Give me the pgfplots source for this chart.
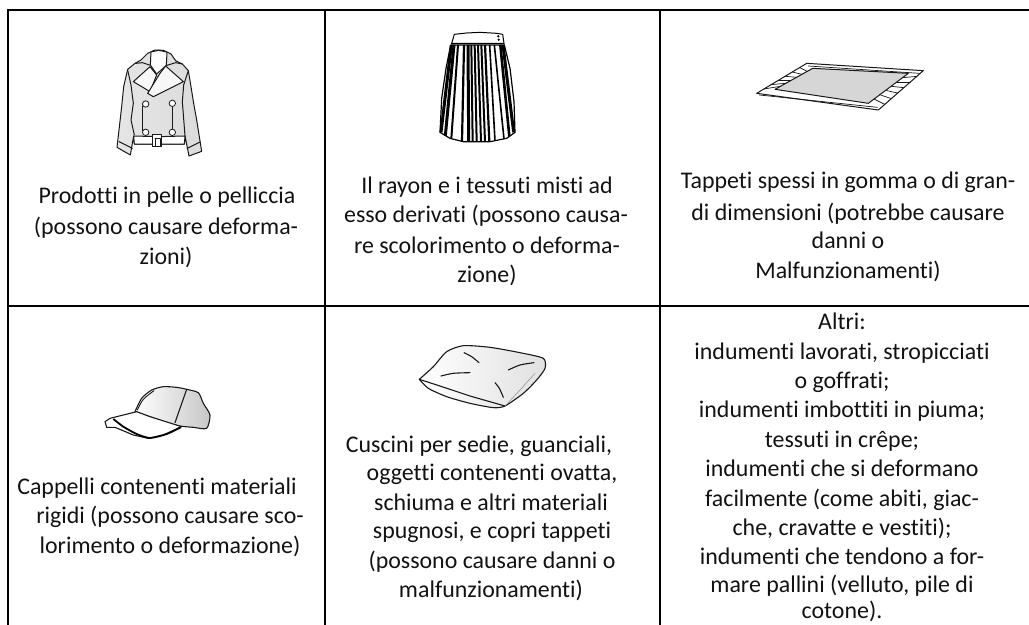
\documentclass[border=0pt]{standalone}
\usepackage{pgfplots}
\pgfplotsset{compat=1.18}
\usepackage{fontspec}
\setmainfont[Ligatures=NoCommon]{Carlito}
\definecolor{tx}{gray}{0.07}
\newcommand\tl[3]{\node[anchor=base,inner sep=0pt,text=tx,font=\fontsize{23.9bp}{28bp}\selectfont] at (axis cs:#1,#2) {#3};}
\pgfplotsset{
 jk/.style={x filter/.expression={105+x/3},y filter/.expression={40+y/3}},
 sk/.style={x filter/.expression={430+x/3},y filter/.expression={25+y/3}},
 rg/.style={x filter/.expression={600+x/3},y filter/.expression={y/3}},
 cp/.style={x filter/.expression={80+x/3},y filter/.expression={310+y/3}},
 ink/.style={draw=black!90,line width=1bp,line join=round,line cap=round,mark=none},
}
\newcommand\pl[5]{\addplot[sk,draw=black,line width=#5,mark=none,line cap=butt] coordinates {(#1,#2)(#3,#4)};}
\begin{document}
\begin{tikzpicture}
\useasboundingbox (0,0) rectangle (1029bp,625bp);
\begin{axis}[at={(0,0)},anchor=south west,scale only axis,width=1029bp,height=625bp,
 xmin=0,xmax=1029,ymin=0,ymax=625,y dir=reverse,hide axis,clip=false]
% table rules
\addplot[black,line width=2bp,mark=none] coordinates {(8,10)(1029,10)};
\addplot[black,line width=1.6bp,mark=none] coordinates {(8,306)(1029,306)};
\addplot[black,line width=2bp,mark=none] coordinates {(8,9)(8,625)};
\addplot[black,line width=1.6bp,mark=none] coordinates {(325,10)(325,625)};
\addplot[black,line width=1.6bp,mark=none] coordinates {(660,10)(660,625)};
% jacket
\addplot[jk,ink,left color=black!10,middle color=white,right color=black!14] coordinates {(128,40)(150,30)(175,31)(198,42)(212,62)(232,72)(250,92)(258,140)(266,190)(275,240)(283,290)(290,334)(252,348)(244,308)(240,288)(238,312)(88,312)(86,288)(76,345)(36,322)(42,270)(50,200)(56,140)(68,88)(90,70)(108,60)(128,40)};
\addplot[jk,ink,fill=white] coordinates {(138,36)(136,75)(155,102)(184,76)(186,36)(160,31)(138,36)};
\addplot[jk,ink,fill=black!3] coordinates {(135,80)(85,125)(135,155)(155,105)(135,80)};
\addplot[jk,ink,fill=black!3] coordinates {(165,100)(182,78)(235,125)(145,170)(128,160)(165,100)};
\addplot[jk,ink] coordinates {(92,70)(112,68)(136,76)};
\addplot[jk,ink] coordinates {(186,76)(212,68)(232,72)};
\addplot[jk,ink] coordinates {(68,90)(78,135)(85,190)(78,240)(88,285)};
\addplot[jk,ink] coordinates {(250,92)(236,135)(232,185)(240,288)};
\addplot[jk,ink] coordinates {(42,305)(82,325)};
\addplot[jk,ink] coordinates {(247,325)(285,306)};
\addplot[jk,ink] coordinates {(113,198)(113,272)};
\addplot[jk,ink] coordinates {(202,200)(202,270)};
\addplot[jk,ink,fill=white] coordinates {(86,288)(160,290)(240,288)(238,312)(88,312)(86,288)};
\addplot[jk,ink,fill=white] coordinates {(143,283)(170,283)(170,318)(143,318)(143,283)};
\addplot[jk,ink] coordinates {(150,295)(165,295)(165,318)};
\addplot[jk,ink] coordinates {(150,295)(150,318)};
\addplot[jk,only marks,mark=*,mark size=3.2bp,mark options={draw=black!90,fill=white,line width=0.8bp}] coordinates {(122,192)(202,190)(122,277)(202,277)};
% skirt
\addplot[sk,draw=black,line width=1.2bp,fill=white,mark=none] coordinates {(62,60)(223,60)(240,130)(252,230)(255,322)(230,340)(180,350)(100,350)(60,340)(30,322)(35,220)(48,130)(62,60)};
\pl{64}{60}{33}{322}{3bp}\pl{72}{60}{46}{332}{3bp}\pl{84}{60}{64}{340}{2bp}
\pl{102}{60}{96}{348}{2.2bp}\pl{114}{60}{116}{350}{3bp}\pl{124}{60}{128}{350}{2bp}
\pl{134}{60}{140}{350}{2bp}\pl{144}{60}{153}{350}{2bp}\pl{154}{60}{165}{350}{2bp}
\pl{165}{60}{178}{350}{2.2bp}\pl{179}{60}{195}{348}{1.6bp}\pl{193}{60}{222}{342}{1.6bp}
\pl{211}{60}{238}{334}{2.6bp}\pl{219}{60}{251}{322}{3bp}
\addplot[sk,draw=black,line width=1bp,fill=white,mark=none] coordinates {(73,28)(110,24)(150,22)(200,25)(218,28)(222,55)(65,55)(73,28)};
\addplot[sk,only marks,mark=*,mark size=0.9bp,black] coordinates {(205,34)(206,44)};
% rug
\addplot[rg,ink,fill=white] coordinates {(470,280)(620,190)(970,212)(835,330)(470,280)};
\addplot[rg,ink,left color=black!16,middle color=white,right color=black!16] coordinates {(525,268)(638,205)(925,220)(805,310)(525,268)};
\addplot[rg,ink,line width=0.7bp] coordinates {(478,285)(832,322)};
\addplot[rg,ink,line width=0.7bp] coordinates {(625,198)(958,220)};
\addplot[rg,ink,line width=0.7bp] coordinates {(491,267)(541,259)};
\addplot[rg,ink,line width=0.7bp] coordinates {(513,254)(557,250)};
\addplot[rg,ink,line width=0.7bp] coordinates {(534,241)(573,241)};
\addplot[rg,ink,line width=0.7bp] coordinates {(556,229)(590,232)};
\addplot[rg,ink,line width=0.7bp] coordinates {(577,216)(606,223)};
\addplot[rg,ink,line width=0.7bp] coordinates {(599,203)(622,214)};
\addplot[rg,ink,line width=0.7bp] coordinates {(951,229)(908,233)};
\addplot[rg,ink,line width=0.7bp] coordinates {(931,246)(891,246)};
\addplot[rg,ink,line width=0.7bp] coordinates {(912,263)(874,259)};
\addplot[rg,ink,line width=0.7bp] coordinates {(893,279)(856,271)};
\addplot[rg,ink,line width=0.7bp] coordinates {(874,296)(839,284)};
\addplot[rg,ink,line width=0.7bp] coordinates {(854,313)(822,297)};
% cap
\addplot[cp,ink,line width=1.1bp,smooth,tension=0.4,left color=white,right color=black!22] coordinates {(165,305)(185,265)(215,240)(250,230)(290,232)(320,238)(355,248)(370,280)(390,315)(380,355)(340,352)(285,345)(165,305)};
\addplot[cp,ink,line width=1.1bp,fill=white] coordinates {(75,335)(90,325)(170,305)(210,320)(305,350)(250,375)(205,385)(160,375)(105,352)(80,352)(75,335)};
\addplot[cp,ink,line width=1.1bp] coordinates {(320,238)(285,338)};
\addplot[cp,ink,line width=0.9bp,smooth] coordinates {(172,300)(190,268)(222,242)};
\addplot[cp,black,line width=1.8bp,mark=none,smooth,tension=0.4] coordinates {(100,327)(130,350)(170,372)(210,384)(260,372)(302,352)};
% pillow
\addplot[cp,ink,line width=1.1bp,smooth,tension=0.4,left color=white,right color=black!12] coordinates {(1018,208)(1060,170)(1100,125)(1150,107)(1230,112)(1320,128)(1390,145)(1395,175)(1370,210)(1330,250)(1275,288)(1240,293)(1170,280)(1100,260)(1045,235)(1018,208)};
\addplot[cp,ink,line width=1.1bp] coordinates {(1018,208)(1080,228)(1170,258)(1275,288)};
\addplot[cp,ink,line width=0.5bp,draw=black!45] coordinates {(1275,288)(1320,240)(1365,190)};
\addplot[cp,ink,line width=1.1bp,smooth] coordinates {(1152,128)(1175,140)(1197,158)};
\addplot[cp,ink,line width=1.1bp,smooth] coordinates {(1083,198)(1120,190)(1170,188)};
\addplot[cp,ink,line width=1.1bp,smooth] coordinates {(1285,180)(1320,165)(1362,158)};
\addplot[cp,ink,line width=1.1bp,smooth] coordinates {(1245,218)(1258,235)(1270,262)};
% text
\tl{167}{203}{Prodotti in pelle o pelliccia}
\tl{166}{234}{(possono causare deforma-}
\tl{166}{264}{zioni)}
\tl{487}{193}{Il rayon e i tessuti misti ad}
\tl{486}{222}{esso derivati (possono causa-}
\tl{487}{253}{re scolorimento o deforma-}
\tl{487}{282}{zione)}
\tl{848}{188}{Tappeti spessi in gomma o di gran-}
\tl{848}{220}{di dimensioni (potrebbe causare}
\tl{848}{248}{danni o}
\tl{848}{278}{Malfunzionamenti)}
\tl{157}{494}{Cappelli contenenti materiali}
\tl{170}{523}{rigidi (possono causare sco-}
\tl{170}{553}{lorimento o deformazione)}
\tl{479}{452}{Cuscini per sedie, guanciali,}
\tl{492}{480}{oggetti contenenti ovatta,}
\tl{491}{510}{schiuma e altri materiali}
\tl{492}{538}{spugnosi, e copri tappeti}
\tl{492}{568}{(possono causare danni o}
\tl{491}{597}{malfunzionamenti)}
\tl{842}{329}{Altri:}
\tl{842}{359}{indumenti lavorati, stropicciati}
\tl{842}{388}{o goffrati;}
\tl{842}{417}{indumenti imbottiti in piuma;}
\tl{842}{447}{tessuti in crêpe;}
\tl{842}{476}{indumenti che si deformano}
\tl{842}{506}{facilmente (come abiti, giac-}
\tl{842}{535}{che, cravatte e vestiti);}
\tl{842}{564}{indumenti che tendono a for-}
\tl{842}{592}{mare pallini (velluto, pile di}
\tl{842}{618}{cotone).}
\end{axis}
\end{tikzpicture}
\end{document}
